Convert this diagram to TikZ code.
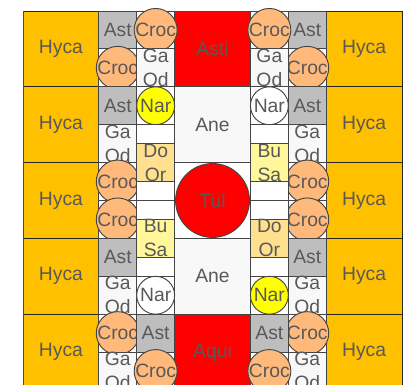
\documentclass[tikz,border=0pt]{standalone}
\usepackage{fontspec}
\setmainfont{Liberation Sans}
\usepackage{tikz}
\usetikzlibrary{positioning}
\definecolor{hycacol}{HTML}{FFC000}
\definecolor{signcol}{HTML}{FF0000}
\definecolor{croccol}{HTML}{FFB97A}
\definecolor{astcol}{HTML}{BEBEBE}
\definecolor{palec}{HTML}{F8F8F8}
\definecolor{doorcol}{HTML}{FFE08F}
\definecolor{busacol}{HTML}{FFF799}
\definecolor{narcol}{HTML}{FFFF00}
\definecolor{textc}{HTML}{595959}
\definecolor{linec}{HTML}{454545}

\begin{document}
\begin{tikzpicture}[
  font=\fontsize{14.5}{18}\selectfont, text=textc,
  cell/.style={draw=linec,line width=0.7pt,fill=white,minimum size=1cm,
               inner sep=0pt,outer sep=0pt,align=center},
  big/.style={cell,minimum size=2cm},
  hyca/.style={big,fill=hycacol,draw=black!85},
  sign/.style={big,fill=signcol},
  ane/.style={big,fill=palec},
  ast/.style={cell,fill=astcol},
  gaod/.style={cell,fill=palec},
  half/.style={cell,minimum height=0.5cm},
  door/.style={cell,fill=doorcol},
  busa/.style={cell,fill=busacol},
  plant/.style={circle,draw=linec,line width=0.7pt,fill=croccol,
                minimum size=1cm,inner sep=0pt},
  nary/.style={plant,fill=narcol},
  narw/.style={plant,fill=white},
]
\clip (-0.607,0.29) rectangle (10.369,-9.868);

% outer beds
\foreach \r in {1,...,5}{
  \node[hyca] (hycaL\r) at (1,1-2*\r) {Hyca};
  \node[hyca] (hycaR\r) at (9,1-2*\r) {Hyca};
}
\draw[signcol,line width=0.7pt] (hycaL1.north west) -- (hycaL5.south west);

% centre column
\node[sign] (asti) at (5,-1) {Asti};
\node[ane] (aneT) at (5,-3) {Ane};
\node[big] (tulbed) at (5,-5) {};
\node[plant,fill=signcol,minimum size=1.95cm] (tul) at (5,-5) {Tul};
\node[ane] (aneB) at (5,-7) {Ane};
\node[sign] (aqui) at (5,-9) {Aqui};

% outer strips (left and right are the same)
\foreach \x/\s in {2.5/L,7.5/R}{
  \node[ast] (ast1\s) at (\x,-0.5) {Ast};
  \node[cell] (bg1\s) at (\x,-1.5) {}; \node[plant] (croc1\s) at (\x,-1.5) {Croc};
  \node[ast] (ast2\s) at (\x,-2.5) {Ast};
  \node[gaod] (gaod2\s) at (\x,-3.5) {Ga\\Od};
  \node[cell] (bg3\s) at (\x,-4.5) {}; \node[plant] (croc3\s) at (\x,-4.5) {Croc};
  \node[cell] (bg4\s) at (\x,-5.5) {}; \node[plant] (croc4\s) at (\x,-5.5) {Croc};
  \node[ast] (ast4\s) at (\x,-6.5) {Ast};
  \node[gaod] (gaod4\s) at (\x,-7.5) {Ga\\Od};
  \node[cell] (bg5\s) at (\x,-8.5) {}; \node[plant] (croc5\s) at (\x,-8.5) {Croc};
  \node[gaod] (gaod5\s) at (\x,-9.5) {Ga\\Od};
}

% inner strip, left
\node[cell] (bgA) at (3.5,-0.5) {}; \node[plant] (crocA) at (3.5,-0.5) {Croc};
\node[gaod] (gaodA) at (3.5,-1.5) {Ga\\Od};
\node[cell] (bgB) at (3.5,-2.5) {}; \node[nary] (narA) at (3.5,-2.5) {Nar};
\node[half] (hA1) at (3.5,-3.25) {};
\node[door] (doorA) at (3.5,-4) {Do\\Or};
\node[half] (hA2) at (3.5,-4.75) {};
\node[half] (hA3) at (3.5,-5.25) {};
\node[busa] (busaA) at (3.5,-6) {Bu\\Sa};
\node[half] (hA4) at (3.5,-6.75) {};
\node[cell] (bgC) at (3.5,-7.5) {}; \node[narw] (narB) at (3.5,-7.5) {Nar};
\node[ast] (astA) at (3.5,-8.5) {Ast};
\node[cell] (bgD) at (3.5,-9.5) {}; \node[plant] (crocB) at (3.5,-9.5) {Croc};

% inner strip, right
\node[cell] (bgE) at (6.5,-0.5) {}; \node[plant] (crocC) at (6.5,-0.5) {Croc};
\node[gaod] (gaodB) at (6.5,-1.5) {Ga\\Od};
\node[cell] (bgF) at (6.5,-2.5) {}; \node[narw] (narC) at (6.5,-2.5) {Nar};
\node[half] (hB1) at (6.5,-3.25) {};
\node[busa] (busaB) at (6.5,-4) {Bu\\Sa};
\node[half] (hB2) at (6.5,-4.75) {};
\node[half] (hB3) at (6.5,-5.25) {};
\node[door] (doorB) at (6.5,-6) {Do\\Or};
\node[half] (hB4) at (6.5,-6.75) {};
\node[cell] (bgG) at (6.5,-7.5) {}; \node[nary] (narD) at (6.5,-7.5) {Nar};
\node[ast] (astB) at (6.5,-8.5) {Ast};
\node[cell] (bgH) at (6.5,-9.5) {}; \node[plant] (crocD) at (6.5,-9.5) {Croc};
\end{tikzpicture}
\end{document}
